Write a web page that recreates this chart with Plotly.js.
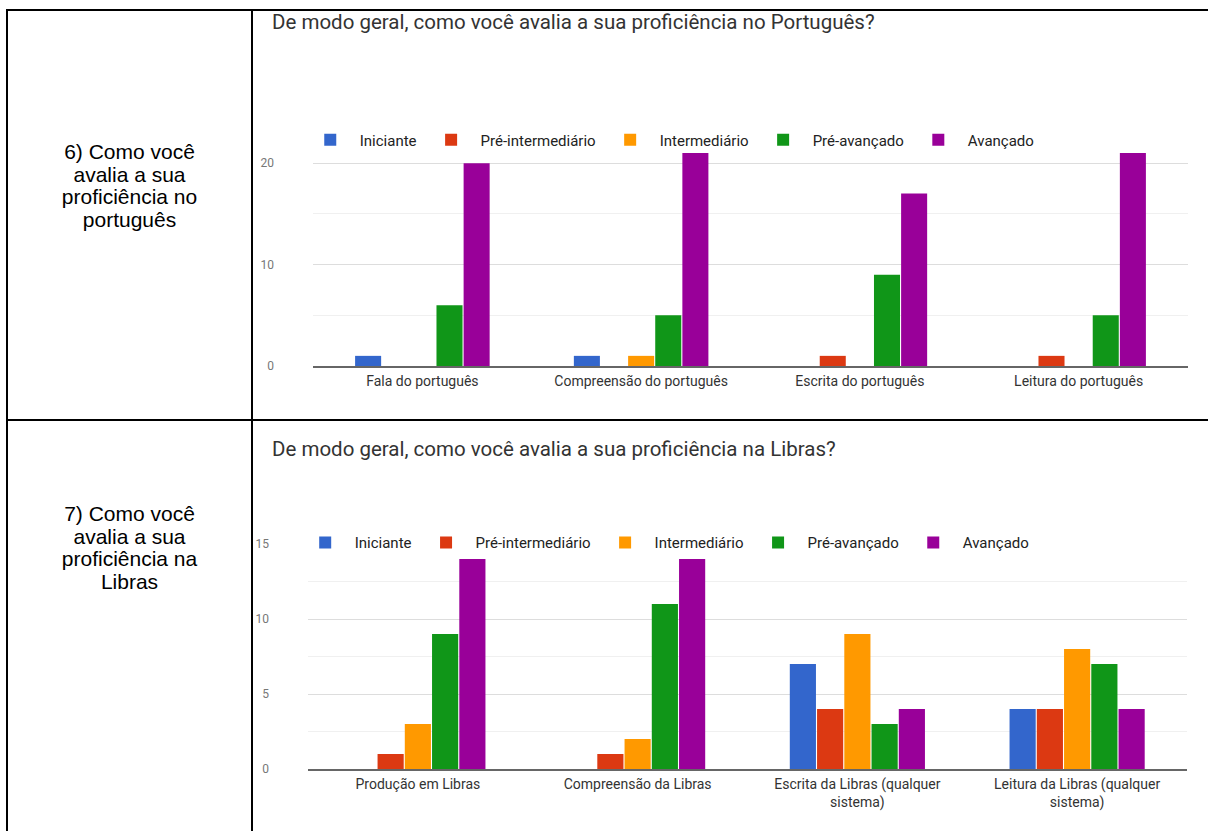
<!DOCTYPE html>
<html>
<head>
<meta charset="utf-8">
<script src="https://cdn.plot.ly/plotly-3.0.1.min.js"></script>
<style>
  html, body { margin: 0; padding: 0; background: #fff; width: 1208px; height: 831px; overflow: hidden; }
  .line { position: absolute; background: #000; }
  .cell-text { position: absolute; text-align: center; font-family: "Liberation Sans", Arial, sans-serif; font-size: 21px; line-height: 22.6px; color: #000; }
  .chart { position: absolute; }
</style>
</head>
<body>
<div class="line" style="left:6px; top:9px; width:1202px; height:2px;"></div>
<div class="line" style="left:6px; top:9px; width:2px; height:822px;"></div>
<div class="line" style="left:251px; top:9px; width:2px; height:822px;"></div>
<div class="line" style="left:6px; top:419px; width:1202px; height:2px;"></div>

<div class="cell-text" style="left:8px; width:243px; top:141px;">6) Como você<br>avalia a sua<br>proficiência no<br>português</div>
<div class="cell-text" style="left:8px; width:243px; top:503px;">7) Como você<br>avalia a sua<br>proficiência na<br>Libras</div>

<div id="chart1" class="chart" style="left:253px; top:11px; width:955px; height:408px;"></div>
<div id="chart2" class="chart" style="left:253px; top:421px; width:955px; height:410px;"></div>

<script>
// ---- Data ----
const seriesNames = ['Iniciante', 'Pré-intermediário', 'Intermediário', 'Pré-avançado', 'Avançado'];
const seriesColors = ['#3366cc', '#dc3912', '#ff9900', '#109618', '#990099'];

const ptTitle = 'De modo geral, como você avalia a sua proficiência no Português?';
const ptCategories = ['Fala do português', 'Compreensão do português', 'Escrita do português', 'Leitura do português'];
const ptIniciante = [1, 1, 0, 0];
const ptPreIntermediario = [0, 0, 1, 1];
const ptIntermediario = [0, 1, 0, 0];
const ptPreAvancado = [6, 5, 9, 5];
const ptAvancado = [20, 21, 17, 21];

const librasTitle = 'De modo geral, como você avalia a sua proficiência na Libras?';
const librasCategories = ['Produção em Libras', 'Compreensão da Libras', 'Escrita da Libras (qualquer<br>sistema)', 'Leitura da Libras (qualquer<br>sistema)'];
const librasIniciante = [0, 0, 7, 4];
const librasPreIntermediario = [1, 1, 4, 4];
const librasIntermediario = [3, 2, 9, 8];
const librasPreAvancado = [9, 11, 3, 7];
const librasAvancado = [14, 14, 4, 4];

const ptValues = [ptIniciante, ptPreIntermediario, ptIntermediario, ptPreAvancado, ptAvancado];
const librasValues = [librasIniciante, librasPreIntermediario, librasIntermediario, librasPreAvancado, librasAvancado];

const FONT = 'Roboto, Arial, sans-serif';

function makeTraces(categories, values) {
  return seriesNames.map((name, i) => ({
    type: 'bar',
    name: name,
    x: categories,
    y: values[i],
    marker: { color: seriesColors[i] },
    hoverinfo: 'x+y+name'
  }));
}

function makeLayout(title, opts) {
  return {
    width: 955,
    height: opts.height,
    margin: { l: opts.l, r: opts.r, t: opts.t, b: opts.b, pad: 0 },
    paper_bgcolor: '#fff',
    plot_bgcolor: '#fff',
    font: { family: FONT, color: '#444' },
    title: {
      text: title,
      font: { family: FONT, size: 20.5, color: '#333' },
      x: 19 / 955, xref: 'container', xanchor: 'left',
      y: opts.titleY, yref: 'container', yanchor: 'middle'
    },
    barmode: 'group',
    bargap: 0.38,
    bargroupgap: 0.04,
    showlegend: true,
    legend: {
      orientation: 'h',
      x: -0.014, xanchor: 'left',
      y: opts.legendY, yanchor: 'middle',
      bgcolor: 'rgba(0,0,0,0)',
      itemwidth: 49,
      font: { family: FONT, size: 15, color: '#222' },
      traceorder: 'normal'
    },
    xaxis: {
      type: 'category',
      showline: true, linecolor: '#666', linewidth: 2,
      showgrid: false, ticks: '',
      tickfont: { family: FONT, size: 14, color: '#333' },
      ticklabelstandoff: 1,
      fixedrange: true
    },
    yaxis: {
      range: opts.yrange,
      dtick: opts.dtick,
      tick0: 0,
      showgrid: true, gridcolor: '#dddddd', gridwidth: 1,
      minor: { dtick: opts.minor, tick0: 0, showgrid: true, gridcolor: '#f0f0f0', gridwidth: 1, ticks: '' },
      zeroline: false,
      showline: false,
      ticks: '',
      tickfont: { family: FONT, size: 12, color: '#777' },
      ticklabelstandoff: 38,
      fixedrange: true
    }
  };
}

const config = { displayModeBar: false, staticPlot: true };

Plotly.newPlot('chart1', makeTraces(ptCategories, ptValues), makeLayout(ptTitle, {
  height: 408, l: 60, r: 20, t: 140, b: 53,
  yrange: [0, 21.2], dtick: 10, minor: 5,
  titleY: 1 - 11 / 408, legendY: 1 + 11 / 215
}), config);

Plotly.newPlot('chart2', makeTraces(librasCategories, librasValues), makeLayout(librasTitle, {
  height: 410, l: 55, r: 21, t: 123, b: 62,
  yrange: [0, 15], dtick: 5, minor: 2.5,
  titleY: 1 - 28 / 410, legendY: 1.006
}), config);
</script>
</body>
</html>
